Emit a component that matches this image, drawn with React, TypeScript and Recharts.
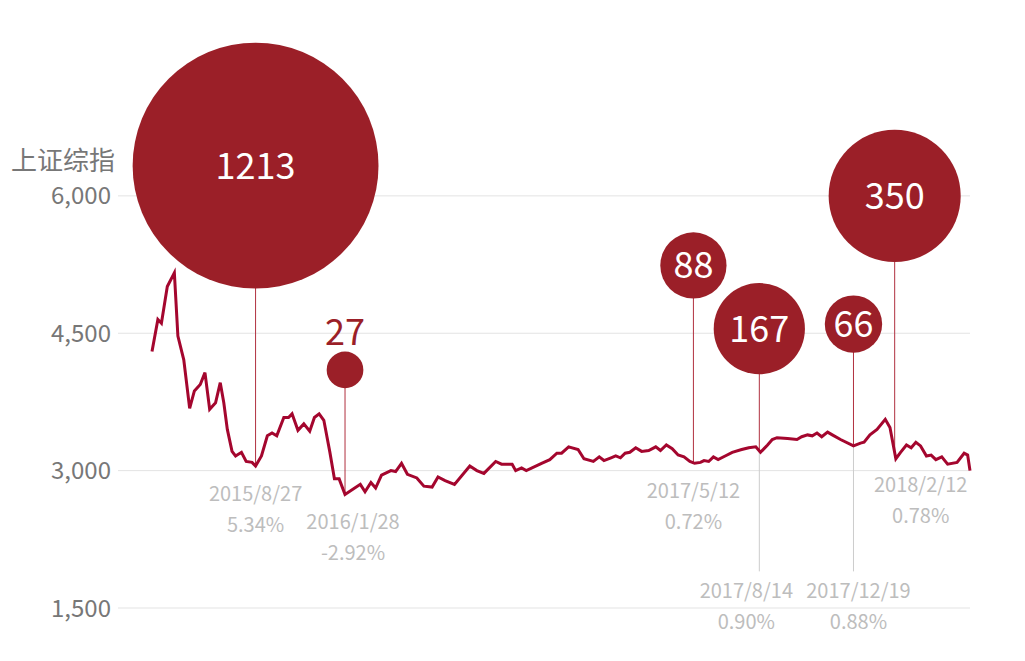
import { CartesianGrid, ComposedChart, Line, ReferenceLine, Scatter, XAxis, YAxis } from 'recharts'

// trading-day index (from the start of the window) and index close
const tradingDay = [
  0, 5, 8, 13, 19, 22, 27, 32, 36, 41, 45, 49, 54, 58, 61, 64, 68, 71, 76, 80,
  85, 88, 93, 98, 102, 106, 112, 116, 119, 124, 129, 134, 138, 142, 146, 151,
  155, 159, 164, 170, 177, 181, 186, 190, 195, 203, 207, 212, 217, 225, 231,
  238, 243, 249, 257, 270, 276, 282, 292, 297, 306, 309, 314, 318, 331, 338,
  344, 348, 354, 362, 367, 375, 380, 384, 390, 394, 398, 402, 406, 411, 416,
  422, 428, 432, 437, 442, 447, 452, 457, 461, 466, 469, 473, 477, 481, 487,
  493, 501, 507, 513, 517, 523, 527, 531, 540, 548, 552, 557, 561, 565, 569,
  574, 578, 585, 596, 602, 605, 610, 616, 623, 627, 632, 636, 641, 645, 649,
  653, 658, 662, 666, 671, 676, 684, 690, 693, 695,
]
const indexClose = [
  4300, 4650, 4610, 5010, 5160, 4470, 4210, 3680, 3870, 3940, 4070, 3670, 3740,
  3960, 3740, 3450, 3210, 3160, 3200, 3100, 3090, 3050, 3160, 3380, 3410, 3380,
  3580, 3580, 3620, 3440, 3510, 3430, 3580, 3620, 3550, 3210, 2910, 2910, 2740,
  2790, 2850, 2770, 2870, 2810, 2950, 3000, 2990, 3080, 2960, 2920, 2830, 2820,
  2930, 2890, 2850, 3050, 3000, 2970, 3100, 3070, 3070, 3000, 3030, 3000, 3080,
  3120, 3190, 3190, 3260, 3230, 3130, 3100, 3150, 3110, 3140, 3160, 3140, 3190,
  3200, 3250, 3210, 3220, 3260, 3220, 3280, 3240, 3170, 3150, 3100, 3080, 3090,
  3110, 3100, 3150, 3120, 3160, 3200, 3230, 3250, 3260, 3200, 3280, 3340, 3360,
  3350, 3340, 3370, 3390, 3380, 3410, 3370, 3420, 3390, 3340, 3270, 3300, 3310,
  3390, 3450, 3560, 3470, 3130, 3200, 3280, 3250, 3310, 3270, 3160, 3170, 3120,
  3150, 3070, 3090, 3190, 3170, 3000,
]

// events
const eventDay = [88, 164, 460, 516, 596, 631]
const eventCount = [1213, 27, 88, 167, 66, 350]
const eventBubbleLevel = [6330, 4100, 5240, 4550, 4600, 6000]
const eventClose = [3050, 2740, 3080, 3200, 3270, 3140]
const eventDate = ['2015/8/27', '2016/1/28', '2017/5/12', '2017/8/14', '2017/12/19', '2018/2/12']
const eventChange = ['5.34%', '-2.92%', '0.72%', '0.90%', '0.88%', '0.78%']
const eventLabelLow = [false, false, false, true, true, false]
const lowLabelLevel = 1900

const yTicks = [1500, 3000, 4500, 6000]

const RED = '#a4062e'
const BUBBLE = '#9b1f28'
const FONT = '"Noto Sans CJK SC", "Noto Sans", sans-serif'

const series = tradingDay.map((t, i) => ({ t, v: indexClose[i] }))

const bubbles = eventDay.map((t, i) => ({
  t,
  v: eventBubbleLevel[i],
  n: eventCount[i],
}))

const labelNudge = [0, 8, 0, -13, 5, 26]
const labels = eventDay.map((t, i) => ({
  t,
  v: eventLabelLow[i] ? lowLabelLevel : eventClose[i],
  date: eventDate[i],
  pct: eventChange[i],
  low: eventLabelLow[i],
  dx: labelNudge[i],
}))

function Bubble(props: any) {
  const { cx, cy, payload } = props
  const r = 3.53 * Math.sqrt(payload.n)
  const small = r < 25
  return (
    <g>
      <circle cx={cx} cy={cy} r={r} fill={BUBBLE} />
      <text
        x={cx}
        y={small ? cy - r - 23 : cy - 3}
        textAnchor="middle"
        dominantBaseline="central"
        fill={small ? BUBBLE : '#fff'}
        fontSize={36}
        fontFamily={FONT}
      >
        {payload.n}
      </text>
    </g>
  )
}

function EventLabel(props: any) {
  const { cx, cy, payload } = props
  const y1 = payload.low ? cy + 18 : cy + 26
  return (
    <g fontFamily={FONT} fontSize={20} fill="#bdbdbd" textAnchor="middle">
      <text x={cx + payload.dx} y={y1} dominantBaseline="central">
        {payload.date}
      </text>
      <text x={cx + payload.dx} y={y1 + 31} dominantBaseline="central">
        {payload.pct}
      </text>
    </g>
  )
}

export default function App() {
  return (
    <div style={{ position: 'absolute', left: 0, top: 0, width: 1025, height: 661, fontFamily: FONT }}>
      <div
        style={{
          position: 'absolute',
          left: 11,
          top: 140,
          fontSize: 26,
          color: '#777',
        }}
      >
        上证综指
      </div>
      <ComposedChart
        width={1025}
        height={661}
        margin={{ top: 58.5, right: 55, bottom: 53, left: 0 }}
      >
        <CartesianGrid
          vertical={false}
          horizontalValues={yTicks}
          stroke="#e3e3e3"
          strokeWidth={1}
        />
        <XAxis
          type="number"
          dataKey="t"
          domain={[0, 695]}
          padding={{ left: 34, right: 0 }}
          hide
        />
        <YAxis
          type="number"
          dataKey="v"
          domain={[1500, 7500]}
          ticks={yTicks}
          width={118}
          axisLine={false}
          tickLine={false}
          tickSize={0}
          tickMargin={7}
          tick={{ fill: '#777', fontSize: 24, fontFamily: FONT }}
          tickFormatter={(v: number) => v.toLocaleString('en-US')}
        />
        {eventDay.map((t, i) => (
          <ReferenceLine
            key={'g' + i}
            segment={[
              { x: t, y: eventClose[i] },
              { x: t, y: eventLabelLow[i] ? lowLabelLevel : eventClose[i] },
            ]}
            stroke="#cccccc"
            strokeWidth={1}
          />
        ))}
        {eventDay.map((t, i) => (
          <ReferenceLine
            key={'r' + i}
            segment={[
              { x: t, y: eventBubbleLevel[i] },
              { x: t, y: eventClose[i] },
            ]}
            stroke="#b0303f"
            strokeWidth={1}
          />
        ))}
        <Line
          data={series}
          dataKey="v"
          stroke={RED}
          strokeWidth={3}
          dot={false}
          activeDot={false}
          type="linear"
          isAnimationActive={false}
        />
        <Scatter data={labels} dataKey="v" shape={EventLabel} isAnimationActive={false} />
        <Scatter data={bubbles} dataKey="v" shape={Bubble} isAnimationActive={false} />
      </ComposedChart>
    </div>
  )
}
